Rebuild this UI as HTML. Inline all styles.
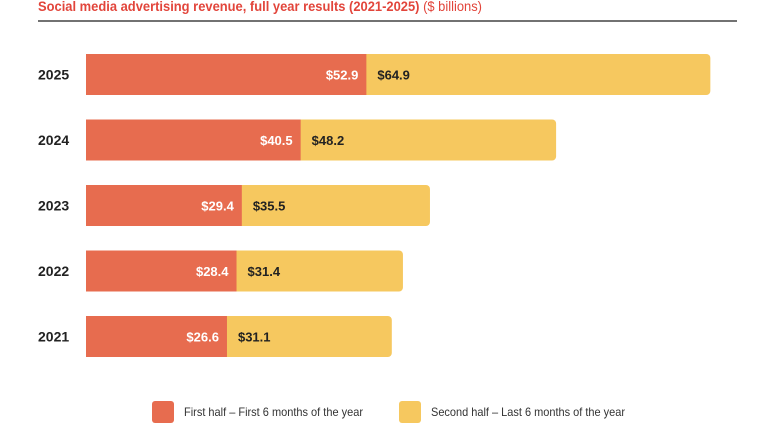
<!DOCTYPE html>
<html><head><meta charset="utf-8"><style>
body{margin:0;width:758px;height:426px;background:#fff;overflow:hidden;font-family:"Liberation Sans",sans-serif;}
svg{display:block}
</style></head><body>
<svg id="c" width="758" height="426">
<text x="38" y="11" font-size="14" font-weight="bold" fill="#E2453B" textLength="444" lengthAdjust="spacingAndGlyphs">Social media advertising revenue, full year results (2021-2025) <tspan font-weight="normal">($ billions)</tspan></text>
<line x1="38" y1="21" x2="737" y2="21" stroke="#444" stroke-width="1.5"/>
<g id="bars"></g>
<rect x="152" y="401" width="22" height="22" rx="3" fill="#E76C4F"/>
<text x="184" y="416" font-size="12" fill="#333" textLength="179" lengthAdjust="spacingAndGlyphs">First half – First 6 months of the year</text>
<rect x="399" y="401" width="22" height="22" rx="3" fill="#F6C85F"/>
<text x="431" y="416" font-size="12" fill="#333" textLength="194" lengthAdjust="spacingAndGlyphs">Second half – Last 6 months of the year</text>
</svg>
<script>
const years=["2025","2024","2023","2022","2021"];
const firstHalf=[52.9,40.5,29.4,28.4,26.6];
const secondHalf=[64.9,48.2,35.5,31.4,31.1];
const x0=86, scale=5.3, y0=54, step=65.5, bh=41;
const xs=v=>v*scale;
const g=document.getElementById('bars');
const NS="http://www.w3.org/2000/svg";
function mk(t,a){const e=document.createElementNS(NS,t);for(const k in a)e.setAttribute(k,a[k]);return e;}
years.forEach((yr,i)=>{
  const y=y0+i*step, w1=xs(firstHalf[i]), w2=xs(secondHalf[i]);
  const lab=mk('text',{x:38,y:y+bh/2+5,'font-size':14,'font-weight':'bold',fill:'#222'});
  lab.textContent=yr;
  
  
  g.appendChild(lab);
  const b2=mk('rect',{x:x0+w1-6,y:y,width:w2+6,height:bh,rx:4,fill:'#F6C85F'});
  
  
  g.appendChild(b2);
  const b1=mk('rect',{x:x0,y:y,width:w1,height:bh,fill:'#E76C4F'});
  
  
  g.appendChild(b1);
  const t1=mk('text',{x:x0+w1-8,y:y+bh/2+5,'font-size':13,'font-weight':'bold',fill:'#fff','text-anchor':'end'});
  t1.textContent='$'+firstHalf[i].toFixed(1);
  
  
  g.appendChild(t1);
  const t2=mk('text',{x:x0+w1+11,y:y+bh/2+5,'font-size':13,'font-weight':'bold',fill:'#222'});
  t2.textContent='$'+secondHalf[i].toFixed(1);
  
  
  g.appendChild(t2);
});
</script>
</body></html>
